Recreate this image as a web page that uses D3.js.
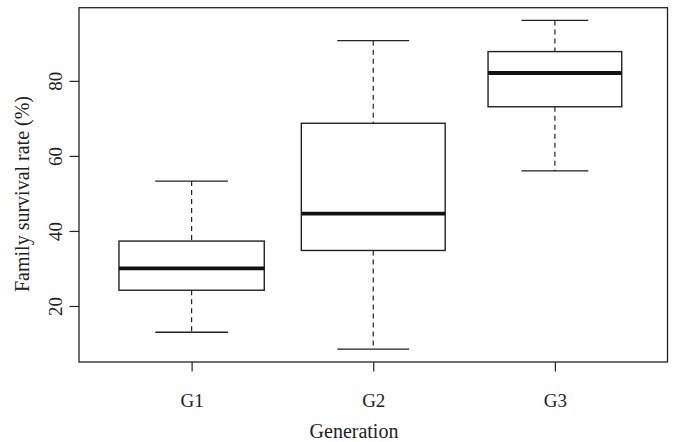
<!DOCTYPE html>
<html><head><meta charset="utf-8">
<script src="https://cdn.jsdelivr.net/npm/d3@7"></script>
<style>body{margin:0;background:#fff}svg{display:block}text{font-family:"Liberation Serif","Times New Roman",serif;fill:#222}</style>
</head><body><svg id="c" width="674" height="442"></svg>
<script>
const categories = ["G1","G2","G3"];
const lowerWhisker = [13.0, 8.5, 56.0];
const q1 = [24.2, 34.8, 73.1];
const median = [30.0, 44.6, 82.1];
const q3 = [37.3, 68.7, 87.8];
const upperWhisker = [53.3, 90.7, 96.1];
const relWidth = [1, 0.99, 0.92];
const yTicks = [20, 40, 60, 80];

const svg = d3.select("#c");
const L = 79, R = 667.5, T = 7.7, B = 362;
const x = d3.scaleLinear().domain([0.38, 3.62]).range([L, R]);
const y = d3.scaleLinear().domain([5.07, 99.5]).range([B, T]);
const col = "#222";
const FS = 19;

// y axis
const yAxis = d3.axisLeft(y).tickValues(yTicks).tickSize(9.5).tickPadding(0);
const gy = svg.append("g").attr("transform", `translate(${L},0)`).call(yAxis);
gy.select(".domain").remove();
gy.selectAll(".tick line").attr("stroke", col).attr("stroke-width", 1.2);
gy.selectAll(".tick text").attr("font-size", FS).attr("fill", col)
  .attr("x", null).attr("dy", null)
  .attr("transform", `translate(-17,0) rotate(-90)`)
  .attr("text-anchor", "middle");

// x axis
const xAxis = d3.axisBottom(x).tickValues([1,2,3]).tickFormat((d,i)=>categories[i]).tickSize(9.5).tickPadding(0);
const gx = svg.append("g").attr("transform", `translate(0,${B})`).call(xAxis);
gx.select(".domain").remove();
gx.selectAll(".tick line").attr("stroke", col).attr("stroke-width", 1.2);
gx.selectAll(".tick text").attr("font-size", FS).attr("fill", col).attr("y", 45).attr("dy", null);

// frame
svg.append("rect").attr("x", L).attr("y", T).attr("width", R-L).attr("height", B-T)
  .attr("fill", "none").attr("stroke", col).attr("stroke-width", 1.3);

// boxes
const data = categories.map((c,i)=>({c, i, lw: lowerWhisker[i], q1: q1[i], med: median[i], q3: q3[i], uw: upperWhisker[i], w: relWidth[i]}));
const unit = x(2) - x(1);
const g = svg.append("g");
data.forEach(d => {
  const cx = x(d.i + 1), hw = 0.4 * d.w * unit;
  g.append("line").attr("x1", cx).attr("x2", cx).attr("y1", y(d.uw)).attr("y2", y(d.q3))
    .attr("stroke", col).attr("stroke-width", 1.2).attr("stroke-dasharray", "5,4");
  g.append("line").attr("x1", cx).attr("x2", cx).attr("y1", y(d.q1)).attr("y2", y(d.lw))
    .attr("stroke", col).attr("stroke-width", 1.2).attr("stroke-dasharray", "5,4");
  [d.uw, d.lw].forEach(v => g.append("line").attr("x1", cx - hw/2).attr("x2", cx + hw/2)
    .attr("y1", y(v)).attr("y2", y(v)).attr("stroke", col).attr("stroke-width", 1.3));
  g.append("rect").attr("x", cx - hw).attr("width", 2*hw).attr("y", y(d.q3)).attr("height", y(d.q1) - y(d.q3))
    .attr("fill", "#fff").attr("stroke", col).attr("stroke-width", 1.4);
  g.append("line").attr("x1", cx - hw).attr("x2", cx + hw).attr("y1", y(d.med)).attr("y2", y(d.med))
    .attr("stroke", "#111").attr("stroke-width", 3.8);
});

// titles
svg.append("text").attr("x", 354).attr("y", 438).attr("text-anchor", "middle")
  .attr("font-size", 20).text("Generation");
svg.append("text").attr("transform", `translate(29, 194) rotate(-90)`).attr("text-anchor", "middle")
  .attr("font-size", 20).text("Family survival rate (%)");
</script></body></html>
